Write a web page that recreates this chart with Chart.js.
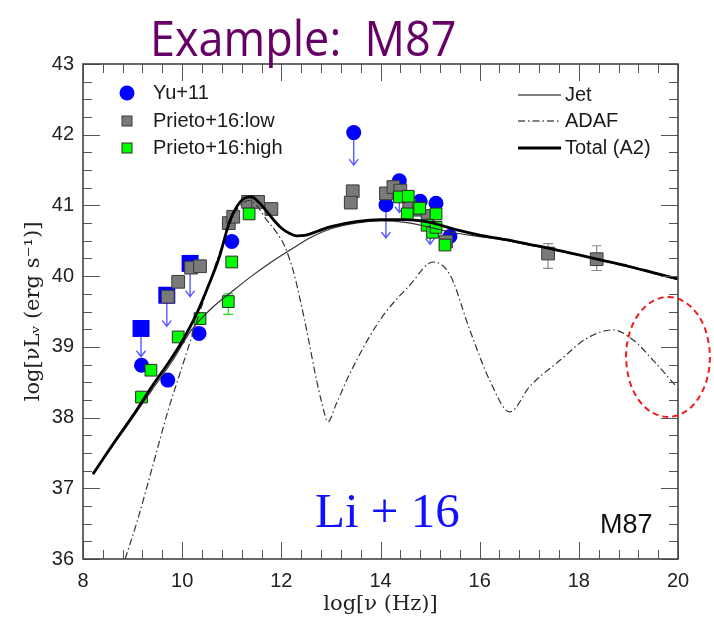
<!DOCTYPE html>
<html>
<head>
<meta charset="utf-8">
<script src="https://cdn.jsdelivr.net/npm/chart.js@4.4.1/dist/chart.umd.min.js"></script>
<style>
  body { margin: 0; background: #fff; }
  #wrap { position: relative; width: 714px; height: 618px; overflow: hidden; }
  canvas { position: absolute; left: 0; top: 0; }
  .note { position: absolute; white-space: pre; line-height: 1; }
  #title { left: 150px; top: 4px; font: 45px 'Open Sans', sans-serif; color: #660066; transform: scaleY(1.08); transform-origin: 0 0; }
  #li { left: 315px; top: 482px; font: 49px 'Liberation Serif', serif; color: #1010ff; }
  #m87 { left: 600px; top: 509px; font: 27px 'Liberation Sans', sans-serif; color: #111; }
  #ring { position: absolute; left: 625px; top: 296px; width: 82px; height: 118px; border: 2px dashed #ee1c1c; border-radius: 50%; }
</style>
</head>
<body>
<div id="wrap">
  <canvas id="sed" width="714" height="618"></canvas>
  <div id="title" class="note">Example:  M87</div>
  <div id="li" class="note">Li + 16</div>
  <div id="m87" class="note">M87</div>
  <div id="ring"></div>
</div>
<script>
// Model curves: log(nu) and log(nu L_nu)
const totalX = [8.2, 8.6, 9.0, 9.4, 9.7, 10.0, 10.3, 10.55, 10.75, 10.95, 11.1, 11.25, 11.4, 11.55, 11.7, 11.85, 12.0, 12.15, 12.3, 12.5, 12.75, 13.0, 13.5, 14.0, 14.5, 15.0, 15.5, 16.0, 16.5, 17.0, 17.5, 18.0, 18.5, 19.0, 19.5, 20.0];
const totalY = [37.2, 37.62, 38.02, 38.45, 38.75, 39.08, 39.48, 39.9, 40.27, 40.76, 40.98, 41.1, 41.12, 41.04, 40.92, 40.79, 40.68, 40.61, 40.57, 40.58, 40.64, 40.7, 40.77, 40.8, 40.8, 40.76, 40.66, 40.58, 40.52, 40.45, 40.38, 40.3, 40.22, 40.14, 40.05, 39.96];

const jetX = [8.2, 8.6, 9.0, 9.4, 9.8, 10.2, 10.6, 11.0, 11.4, 11.8, 12.2, 12.6, 13.0, 13.5, 14.0, 14.5, 15.0, 15.5, 16.0, 16.5, 17.0, 17.5, 18.0, 18.5, 19.0, 19.5, 20.0];
const jetY = [37.2, 37.6, 38.0, 38.4, 38.8, 39.25, 39.55, 39.78, 40.0, 40.2, 40.38, 40.55, 40.67, 40.75, 40.78, 40.76, 40.69, 40.61, 40.56, 40.51, 40.44, 40.37, 40.3, 40.22, 40.13, 40.04, 39.95];

const adafX = [8.85, 9.1, 9.4, 9.72, 10.0, 10.26, 10.5, 10.73, 10.9, 11.06, 11.2, 11.35, 11.5, 11.7, 11.9, 12.07, 12.25, 12.41, 12.55, 12.68, 12.82, 12.94, 13.1, 13.38, 13.99, 14.6, 15.06, 15.4, 15.8, 16.2, 16.61, 17.01, 17.62, 18.16, 18.69, 19.09, 19.5, 19.94];
const adafY = [36.0, 36.55, 37.3, 38.11, 38.72, 39.29, 39.8, 40.28, 40.62, 40.89, 41.02, 41.07, 41.0, 40.8, 40.62, 40.42, 40.05, 39.57, 39.1, 38.63, 38.2, 37.94, 38.18, 38.62, 39.38, 39.88, 40.2, 40.02, 39.24, 38.53, 38.08, 38.44, 38.81, 39.12, 39.24, 39.1, 38.81, 38.46];

// Yu+11 detections and upper limits
const yuX = [9.18, 9.71, 10.34, 11.0, 13.46, 14.11, 14.38, 14.8, 15.12, 15.4];
const yuY = [38.74, 38.53, 39.19, 40.49, 42.03, 41.01, 41.35, 41.06, 41.03, 40.56];
const yuLimX = [9.17, 9.69, 10.16];
const yuLimY = [39.26, 39.73, 40.18];
const arrowX = [9.17, 9.69, 10.16, 13.46, 14.11, 14.38, 15.0];
const arrowFrom = [39.26, 39.73, 40.18, 42.03, 41.01, 41.35, 40.85];
const arrowTo = [38.86, 39.29, 39.71, 41.57, 40.54, 40.9, 40.45];

// Prieto+16 low resolution
const lowX = [9.71, 9.92, 10.18, 10.36, 10.94, 11.03, 11.33, 11.53, 11.8, 13.44, 13.4, 14.11, 14.26, 14.4, 14.58, 14.78, 14.95, 15.32, 17.38, 18.36];
const lowY = [39.71, 39.92, 40.12, 40.14, 40.75, 40.84, 41.05, 41.05, 40.95, 41.2, 41.04, 41.17, 41.26, 41.21, 41.01, 40.94, 40.85, 40.49, 40.32, 40.24];
const lowErrX = [17.38, 18.36];
const lowErrLo = [40.11, 40.08];
const lowErrHi = [40.46, 40.43];

// Prieto+16 high resolution
const highX = [9.18, 9.37, 9.92, 10.36, 10.93, 11.0, 11.35, 14.38, 14.56, 14.54, 14.79, 15.12, 14.94, 15.05, 15.12, 15.3];
const highY = [38.29, 38.67, 39.14, 39.4, 39.64, 40.2, 40.88, 41.12, 41.13, 40.88, 40.96, 40.88, 40.72, 40.62, 40.69, 40.44];
const highErrX = [10.93];
const highErrLo = [39.46];
const highErrHi = [39.75];

const toPoints = (xs, ys) => xs.map((x, i) => ({ x: x, y: ys[i] }));

// frame with inward ticks, arrows, error bars and the two legends
const sedPlugin = {
  id: 'sedExtras',
  beforeDatasetsDraw(chart) {
    const ctx = chart.ctx;
    const xs = chart.scales.x, ys = chart.scales.y;
    ctx.save();
    // upper-limit arrows
    ctx.strokeStyle = '#5a5aff';
    ctx.lineWidth = 1.4;
    arrowX.forEach((x, i) => {
      const px = xs.getPixelForValue(x);
      const y0 = ys.getPixelForValue(arrowFrom[i]);
      const y1 = ys.getPixelForValue(arrowTo[i]);
      ctx.beginPath();
      ctx.moveTo(px, y0);
      ctx.lineTo(px, y1);
      ctx.moveTo(px - 4.5, y1 - 6);
      ctx.lineTo(px, y1);
      ctx.lineTo(px + 4.5, y1 - 6);
      ctx.stroke();
    });
    // error bars
    const bars = (ex, lo, hi, color) => {
      ctx.strokeStyle = color;
      ctx.lineWidth = 1.2;
      ex.forEach((x, i) => {
        const px = xs.getPixelForValue(x);
        const a = ys.getPixelForValue(lo[i]);
        const b = ys.getPixelForValue(hi[i]);
        ctx.beginPath();
        ctx.moveTo(px, a); ctx.lineTo(px, b);
        ctx.moveTo(px - 5, a); ctx.lineTo(px + 5, a);
        ctx.moveTo(px - 5, b); ctx.lineTo(px + 5, b);
        ctx.stroke();
      });
    };
    bars(lowErrX, lowErrLo, lowErrHi, '#8c8c8c');
    bars(highErrX, highErrLo, highErrHi, '#22dd22');
    ctx.restore();
  },
  afterDatasetsDraw(chart) {
    const ctx = chart.ctx;
    const a = chart.chartArea;
    const xs = chart.scales.x, ys = chart.scales.y;
    ctx.save();
    // inward ticks on all four sides
    ctx.strokeStyle = '#555';
    ctx.lineWidth = 1;
    ctx.beginPath();
    for (let i = 0; i <= 30; i++) {
      const v = 8 + i * 0.4;
      const px = Math.round(xs.getPixelForValue(v)) + 0.5;
      const len = (i % 5 === 0) ? 17 : 9;
      ctx.moveTo(px, a.bottom); ctx.lineTo(px, a.bottom - len);
      ctx.moveTo(px, a.top); ctx.lineTo(px, a.top + len);
    }
    for (let i = 0; i <= 28; i++) {
      const v = 36 + i * 0.25;
      const py = Math.round(ys.getPixelForValue(v)) + 0.5;
      const len = (i % 4 === 0) ? 17 : 9;
      ctx.moveTo(a.left, py); ctx.lineTo(a.left + len, py);
      ctx.moveTo(a.right, py); ctx.lineTo(a.right - len, py);
    }
    ctx.stroke();
    ctx.strokeStyle = '#444';
    ctx.lineWidth = 1.6;
    ctx.strokeRect(a.left, a.top, a.right - a.left, a.bottom - a.top);

    // left legend: data sets
    ctx.font = "20px 'Liberation Sans', Arial, sans-serif";
    ctx.textBaseline = 'middle';
    const lx = a.left + 44, tx = a.left + 70;
    const rows = [a.top + 29, a.top + 57, a.top + 84];
    ctx.beginPath();
    ctx.arc(lx, rows[0], 7.5, 0, Math.PI * 2);
    ctx.fillStyle = '#0000ff';
    ctx.fill();
    ctx.lineWidth = 1;
    ctx.fillStyle = '#7a7a7a'; ctx.strokeStyle = '#3a3a3a';
    ctx.fillRect(lx - 5, rows[1] - 5, 10, 10); ctx.strokeRect(lx - 5, rows[1] - 5, 10, 10);
    ctx.fillStyle = '#00ff00'; ctx.strokeStyle = '#2a2a2a';
    ctx.fillRect(lx - 5, rows[2] - 5, 10, 10); ctx.strokeRect(lx - 5, rows[2] - 5, 10, 10);
    ctx.fillStyle = '#1a1a1a';
    ctx.fillText('Yu+11', tx, rows[0]);
    ctx.fillText('Prieto+16:low', tx, rows[1]);
    ctx.fillText('Prieto+16:high', tx, rows[2]);

    // right legend: models
    const r0 = a.right - 160, r1 = a.right - 117, rt = a.right - 113;
    const rrows = [a.top + 31, a.top + 57, a.top + 84];
    ctx.strokeStyle = '#555';
    ctx.lineWidth = 1.3;
    ctx.beginPath(); ctx.moveTo(r0, rrows[0]); ctx.lineTo(r1, rrows[0]); ctx.stroke();
    ctx.setLineDash([7, 3, 1.5, 3]);
    ctx.beginPath(); ctx.moveTo(r0, rrows[1]); ctx.lineTo(r1, rrows[1]); ctx.stroke();
    ctx.setLineDash([]);
    ctx.strokeStyle = '#000';
    ctx.lineWidth = 2.8;
    ctx.beginPath(); ctx.moveTo(r0, rrows[2]); ctx.lineTo(r1, rrows[2]); ctx.stroke();
    ctx.fillText('Jet', rt, rrows[0]);
    ctx.fillText('ADAF', rt, rrows[1]);
    ctx.fillText('Total (A2)', rt, rrows[2]);
    ctx.restore();
  }
};

const tickFont = { family: "'Liberation Sans', Arial, sans-serif", size: 20 };
const titleFont = { family: "'DejaVu Serif', serif", size: 21 };

const sedChart = new Chart(document.getElementById('sed'), {
  type: 'scatter',
  data: {
    datasets: [
      {
        label: 'Total (A2)',
        data: toPoints(totalX, totalY),
        showLine: true, borderColor: '#000', borderWidth: 2.8,
        pointRadius: 0, cubicInterpolationMode: 'monotone', order: 0
      },
      {
        label: 'Jet',
        data: toPoints(jetX, jetY),
        showLine: true, borderColor: '#333', borderWidth: 1.2,
        pointRadius: 0, cubicInterpolationMode: 'monotone', order: 0
      },
      {
        label: 'ADAF',
        data: toPoints(adafX, adafY),
        showLine: true, borderColor: '#333', borderWidth: 1.2, borderDash: [7, 3, 1.5, 3],
        pointRadius: 0, cubicInterpolationMode: 'monotone', order: 0
      },
      {
        label: 'Prieto+16:high',
        data: toPoints(highX, highY),
        pointStyle: 'rect', pointRadius: 8.3,
        backgroundColor: '#00ff00', borderColor: '#2a2a2a', borderWidth: 1, order: 1
      },
      {
        label: 'Prieto+16:low',
        data: toPoints(lowX, lowY),
        pointStyle: 'rect', pointRadius: 9,
        backgroundColor: '#7a7a7a', borderColor: '#3a3a3a', borderWidth: 1, order: 2
      },
      {
        label: 'Yu+11 limits',
        data: toPoints(yuLimX, yuLimY),
        pointStyle: 'rect', pointRadius: 12,
        backgroundColor: '#0000ff', borderWidth: 0, order: 3
      },
      {
        label: 'Yu+11',
        data: toPoints(yuX, yuY),
        pointStyle: 'circle', pointRadius: 7.5,
        backgroundColor: '#0000ff', borderWidth: 0, order: 3
      }
    ]
  },
  options: {
    responsive: false,
    animation: false,
    events: [],
    layout: { padding: { top: 64, right: 36, left: 0, bottom: 0 } },
    plugins: { legend: { display: false }, tooltip: { enabled: false } },
    scales: {
      x: {
        type: 'linear', min: 8, max: 20,
        ticks: { stepSize: 2, font: tickFont, color: '#222', padding: 10, maxRotation: 0 },
        grid: { display: false, drawTicks: false },
        border: { display: false },
        title: { display: true, text: 'log[ν (Hz)]', font: titleFont, color: '#222', padding: { top: 0, bottom: 1 } },
        afterFit(scale) { scale.height = 59; }
      },
      y: {
        type: 'linear', min: 36, max: 43,
        ticks: { stepSize: 1, font: tickFont, color: '#222', padding: 9 },
        grid: { display: false, drawTicks: false },
        border: { display: false },
        title: { display: true, text: 'log[νLᵥ (erg s⁻¹)]', font: titleFont, color: '#222', padding: { top: 21, bottom: 0 } },
        afterFit(scale) { scale.width = 83; }
      }
    }
  },
  plugins: [sedPlugin]
});
</script>
</body>
</html>
